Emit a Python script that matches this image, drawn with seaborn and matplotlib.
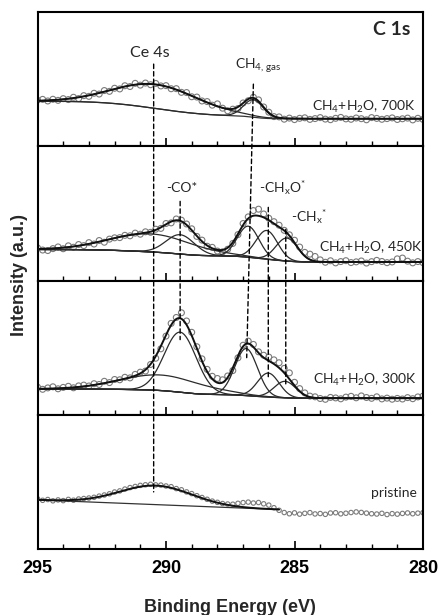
import numpy as np
import pandas as pd
import seaborn as sns
import matplotlib
matplotlib.use("Agg")
import matplotlib.pyplot as plt
from matplotlib.patches import ConnectionPatch
from matplotlib.ticker import MultipleLocator
from math import erf, sqrt

# ---------------- data ----------------
binding_energy = np.linspace(295.0, 280.0, 76)   # eV, 0.2 eV steps

data_700K = [46.0, 46.8, 45.2, 46.9, 45.8, 47.5, 46.6, 48.9, 47.6, 50.5,
             49.8, 52.9, 52.1, 55.6, 54.8, 57.9, 57.2, 60.4, 59.6, 62.8,
             61.0, 63.1, 61.4, 62.7, 60.2, 60.5, 57.4, 57.5, 53.8, 53.6,
             49.4, 49.1, 45.2, 44.6, 41.0, 42.3, 38.0, 35.4, 37.0, 37.6,
             43.2, 45.4, 48.9, 46.3, 39.2, 34.0, 29.6, 29.3, 27.0, 28.1,
             26.6, 27.9, 28.4, 26.8, 27.6, 28.6, 27.1, 26.5, 27.9, 28.8,
             27.3, 26.9, 28.2, 27.5, 26.4, 28.6, 27.8, 26.9, 27.6, 28.3,
             26.7, 27.4, 28.1, 26.3, 27.9, 26.8]
data_450K = [32.6, 30.4, 29.9, 31.8, 33.5, 31.7, 34.6, 33.2, 35.9, 34.8,
             37.8, 36.4, 39.9, 38.2, 41.3, 42.6, 42.8, 45.1, 44.6, 47.3,
             46.2, 48.6, 48.1, 51.2, 52.0, 56.9, 57.5, 61.4, 60.2, 56.4,
             51.6, 44.0, 40.3, 34.2, 33.1, 29.4, 28.6, 31.2, 37.0, 45.8,
             56.9, 63.5, 69.8, 71.2, 66.4, 62.1, 58.7, 55.2, 50.1, 45.6,
             40.2, 33.4, 28.1, 26.3, 24.0, 20.6, 18.2, 19.7, 17.6, 18.9,
             19.8, 17.9, 18.6, 19.5, 17.4, 18.8, 20.1, 19.0, 17.8, 18.5,
             21.6, 22.4, 19.3, 17.6, 18.9, 17.8]
data_300K = [27.6, 25.4, 26.8, 27.9, 25.9, 27.3, 28.4, 26.9, 28.8, 29.6,
             28.7, 31.0, 30.2, 33.4, 32.1, 35.2, 34.9, 37.4, 36.8, 40.3,
             42.5, 43.6, 50.2, 56.4, 65.8, 78.5, 91.2, 97.1, 101.8, 93.6,
             82.3, 67.9, 55.8, 45.3, 38.4, 36.2, 34.9, 38.7, 44.1, 56.8,
             69.4, 73.5, 70.2, 62.8, 59.4, 57.6, 54.8, 51.9, 46.3, 41.8,
             32.4, 26.1, 21.8, 18.6, 17.9, 16.2, 15.4, 17.3, 16.8, 15.9,
             17.6, 18.4, 16.9, 18.8, 17.2, 16.4, 17.9, 15.8, 16.6, 15.5,
             16.3, 15.7, 17.1, 16.0, 17.8, 18.6]
data_pristine = [50.2, 48.6, 49.4, 48.1, 49.0, 48.3, 49.5, 48.7, 49.9, 50.4,
                 50.9, 51.6, 52.8, 53.9, 55.1, 56.9, 58.0, 59.8, 61.3, 62.4,
                 63.5, 64.1, 64.6, 64.0, 63.8, 62.9, 62.2, 60.3, 59.1, 57.0,
                 55.3, 53.2, 51.4, 49.6, 47.8, 46.6, 45.4, 44.9, 44.7, 45.6,
                 46.3, 46.8, 45.9, 46.4, 45.1, 43.8, 41.2, 38.6, 36.4, 35.2,
                 36.1, 34.8, 35.6, 36.3, 35.0, 35.4, 34.6, 35.9, 36.2, 35.1,
                 35.7, 36.4, 37.0, 36.5, 35.8, 35.2, 34.9, 35.6, 34.4, 35.3,
                 34.8, 35.5, 36.0, 35.2, 35.8, 36.3]

# fitted peak components (center eV, height, sigma) per spectrum
peaks_700K_center = [290.35, 286.6]
peaks_700K_height = [24.0, 17.5]
peaks_700K_sigma = [1.65, 0.38]
peaks_450K_center = [290.6, 289.45, 286.8, 286.08, 285.3]
peaks_450K_height = [18.0, 19.3, 31.0, 28.7, 23.0]
peaks_450K_sigma = [1.6, 0.55, 0.42, 0.42, 0.42]
peaks_300K_center = [290.2, 289.45, 286.88, 286.02, 285.37]
peaks_300K_height = [15.5, 60.0, 47.0, 24.0, 16.5]
peaks_300K_sigma = [1.6, 0.62, 0.44, 0.42, 0.42]
peaks_pristine_center = [290.4]
peaks_pristine_height = [19.0]
peaks_pristine_sigma = [1.4]

bg_left = [45.0, 31.0, 25.7, 49.0]
bg_right = [27.5, 18.5, 16.5, 39.4]
bg_kind = ["shirley", "shirley", "shirley", "linear"]
fit_end = [280.0, 280.0, 280.0, 285.6]

labels = ["CH$_4$+H$_2$O, 700K", "CH$_4$+H$_2$O, 450K",
          "CH$_4$+H$_2$O, 300K", "pristine"]

# ---------------- style ----------------
sns.set_theme(style="white")
plt.rcParams["font.family"] = ["Liberation Sans", "DejaVu Sans"]
plt.rcParams["mathtext.fontset"] = "custom"
plt.rcParams["mathtext.rm"] = "Lato"
plt.rcParams["mathtext.it"] = "Lato:italic"
plt.rcParams["mathtext.bf"] = "Lato:bold"
ANN = ["Lato", "DejaVu Sans"]

Phi = np.vectorize(lambda z: 0.5 * (1.0 + erf(z / sqrt(2.0))))


def gauss(x, c, h, s):
    return h * np.exp(-(x - c) ** 2 / (2 * s * s))


def background(x, centers, heights, sigmas, left, right, kind, xend):
    if kind == "linear":
        return right + (left - right) * (x - xend) / (295.0 - xend)
    areas = np.array(heights) * np.array(sigmas)
    S = sum(a * Phi((x - c) / s) for a, c, s in zip(areas, centers, sigmas)) / areas.sum()
    return right + (left - right) * S


datasets = [data_700K, data_450K, data_300K, data_pristine]
peak_sets = [(peaks_700K_center, peaks_700K_height, peaks_700K_sigma),
             (peaks_450K_center, peaks_450K_height, peaks_450K_sigma),
             (peaks_300K_center, peaks_300K_height, peaks_300K_sigma),
             (peaks_pristine_center, peaks_pristine_height, peaks_pristine_sigma)]
marker_s = [18, 18, 18, 10]

fig, axes = plt.subplots(4, 1, figsize=(4.38, 6.15), dpi=100, sharex=True,
                         gridspec_kw=dict(hspace=0))
fig.subplots_adjust(left=37.5 / 438, right=423 / 438, top=1 - 12 / 615, bottom=1 - 549 / 615)

YMAX = 134
for i, ax in enumerate(axes):
    df = pd.DataFrame({"be": binding_energy, "cps": datasets[i]})
    sns.scatterplot(data=df, x="be", y="cps", ax=ax, marker="o", s=marker_s[i],
                    facecolor="none", edgecolor="#7a7a7a", linewidth=0.8, zorder=2)
    cen, hei, sig = peak_sets[i]
    xf = np.linspace(295.0, fit_end[i], 500)
    bg = background(xf, cen, hei, sig, bg_left[i], bg_right[i], bg_kind[i], fit_end[i])
    total = bg.copy()
    sns.lineplot(x=xf, y=bg, ax=ax, color="#333333", lw=0.9, sort=False, estimator=None, zorder=3)
    for c, h, s in zip(cen, hei, sig):
        comp = gauss(xf, c, h, s)
        total = total + comp
        if len(cen) > 1:
            sns.lineplot(x=xf, y=bg + comp, ax=ax, color="#2b2b2b", lw=0.9,
                         sort=False, estimator=None, zorder=3)
    sns.lineplot(x=xf, y=total, ax=ax, color="#111111", lw=1.4, sort=False,
                 estimator=None, zorder=4)

    ax.set_xlim(295, 280)
    ax.set_ylim(0, YMAX)
    ax.set_yticks([])
    ax.set_ylabel("")
    ax.set_xlabel("")
    ax.xaxis.set_major_locator(MultipleLocator(5))
    ax.xaxis.set_minor_locator(MultipleLocator(1))
    ax.tick_params(axis="x", which="major", direction="in", length=6, width=1.2,
                   bottom=True, top=False, colors="black", pad=8,
                   labelbottom=(i == 3), labelsize=13)
    ax.tick_params(axis="x", which="minor", direction="in", length=3.5, width=1.0,
                   bottom=True, top=False, colors="black")
    for sp in ax.spines.values():
        sp.set_linewidth(1.5)
        sp.set_color("black")
    if legend := ax.get_legend():
        legend.remove()

for lab in axes[3].get_xticklabels():
    lab.set_fontweight("bold")
axes[3].set_xlabel("Binding Energy (eV)", fontsize=13, fontweight="bold", labelpad=16)
fig.text(19.5 / 438, 1 - 275 / 615, "Intensity (a.u.)", rotation=90, ha="center",
         va="center", fontsize=13, fontweight="bold")

# ---------------- annotations ----------------
a1, a2, a3, a4 = axes
a1.text(281.2, 117, "C 1s", family=ANN, fontsize=14, fontweight="bold", ha="center", va="center")
a1.text(290.62, 93, "Ce 4s", family=ANN, fontsize=11.5, ha="center", va="center")
a1.text(287.32, 80, r"CH$_{\mathrm{4,\,gas}}$", family=ANN, fontsize=10, ha="left", va="center")
a1.text(280.27, 39, labels[0], family=ANN, fontsize=10, ha="right", va="center")
a2.text(289.39, 92, "-CO*", family=ANN, fontsize=10, ha="center", va="center")
a2.text(286.37, 92, r"-CH$_{\mathrm{x}}$O$^{*}$", family=ANN, fontsize=10, ha="left", va="center")
a2.text(285.14, 63, r"-CH$_{\mathrm{x}}$$^{*}$", family=ANN, fontsize=10, ha="left", va="center")
a2.text(280.02, 32, labels[1], family=ANN, fontsize=10, ha="right", va="center")
a3.text(280.25, 35, labels[2], family=ANN, fontsize=10, ha="right", va="center")
a4.text(280.23, 56, labels[3], family=ANN, fontsize=10, ha="right", va="center")

# ---------------- dashed guide lines ----------------
guides = [  # (x top, y top, axis top, x bottom, y bottom, axis bottom)
    (290.48, 82, 0, 290.48, 57, 3),
    (286.60, 62, 0, 286.86, 57, 2),
    (289.45, 79, 1, 289.45, 75, 2),
    (286.02, 73, 1, 286.02, 38, 2),
    (285.34, 51, 1, 285.34, 30, 2),
]
for xa, ya, ia, xb, yb, ib in guides:
    con = ConnectionPatch(xyA=(xa, ya), coordsA="data", axesA=axes[ia],
                          xyB=(xb, yb), coordsB="data", axesB=axes[ib],
                          color="black", lw=1.0, linestyle=(0, (3.2, 2.2)), zorder=6)
    fig.add_artist(con)

fig.savefig("out.png", dpi=100)
